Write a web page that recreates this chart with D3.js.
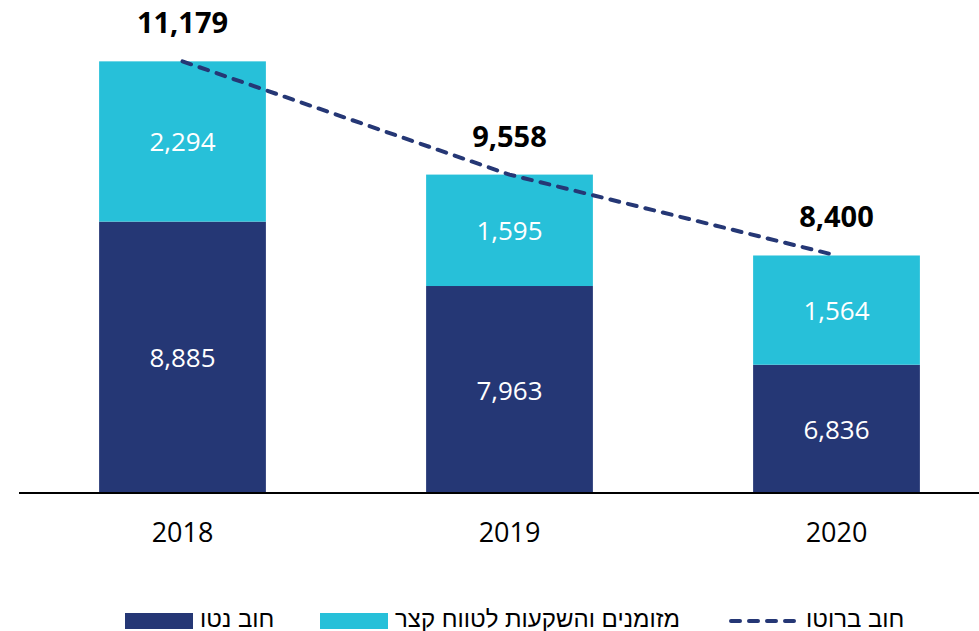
<!DOCTYPE html>
<html>
<head>
<meta charset="utf-8">
<script src="https://cdn.jsdelivr.net/npm/d3@7"></script>
<style>
  body { margin: 0; background: #fff; }
  svg { display: block; }
</style>
</head>
<body>
<div id="chart"></div>
<script>
// נתונים
var years = ["2018", "2019", "2020"];
var netDebt = [8885, 7963, 6836];       // חוב נטו
var cashShort = [2294, 1595, 1564];     // מזומנים והשקעות לטווח קצר
var grossDebt = [11179, 9558, 8400];    // חוב ברוטו

var navy = "#253775";
var cyan = "#27C0D9";

var width = 979, height = 631;

var svg = d3.select("#chart").append("svg")
    .attr("width", width)
    .attr("height", height);

var x = d3.scaleBand()
    .domain(years)
    .range([19, 1000])
    .paddingInner(0.49)
    .paddingOuter(0.245);

// ציר y לא מתחיל באפס
var y = d3.scaleLinear()
    .domain([5000, 12000])
    .range([493, 4]);

var rows = years.map(function(d, i) {
  return { year: d, net: netDebt[i], cash: cashShort[i], gross: grossDebt[i] };
});

// עמודת חוב נטו
svg.selectAll(".net").data(rows).enter().append("rect")
    .attr("class", "net")
    .attr("x", function(d) { return x(d.year); })
    .attr("width", x.bandwidth())
    .attr("y", function(d) { return y(d.net); })
    .attr("height", function(d) { return y(y.domain()[0]) - y(d.net); })
    .attr("fill", navy);

// עמודת מזומנים
svg.selectAll(".cash").data(rows).enter().append("rect")
    .attr("class", "cash")
    .attr("x", function(d) { return x(d.year); })
    .attr("width", x.bandwidth())
    .attr("y", function(d) { return y(d.net + d.cash); })
    .attr("height", function(d) { return y(d.net) - y(d.net + d.cash); })
    .attr("fill", cyan);

var fmt = d3.format(",");

// תוויות בתוך העמודות
svg.selectAll(".netLabel").data(rows).enter().append("text")
    .attr("x", function(d) { return x(d.year) + x.bandwidth() / 2; })
    .attr("y", function(d) { return (y(d.net) + y(y.domain()[0])) / 2 + 10; })
    .attr("text-anchor", "middle")
    .attr("font-family", "'Open Sans', sans-serif")
    .attr("font-size", 26)
    .attr("fill", "#fff")
    .text(function(d) { return fmt(d.net); });

svg.selectAll(".cashLabel").data(rows).enter().append("text")
    .attr("x", function(d) { return x(d.year) + x.bandwidth() / 2; })
    .attr("y", function(d) { return (y(d.net) + y(d.net + d.cash)) / 2 + 10; })
    .attr("text-anchor", "middle")
    .attr("font-family", "'Open Sans', sans-serif")
    .attr("font-size", 26)
    .attr("fill", "#fff")
    .text(function(d) { return fmt(d.cash); });

// קו חוב ברוטו
var line = d3.line()
    .x(function(d) { return x(d.year) + x.bandwidth() / 2; })
    .y(function(d) { return y(d.gross); });

svg.append("path")
    .datum(rows)
    .attr("d", line)
    .attr("fill", "none")
    .attr("stroke", navy)
    .attr("stroke-width", 4)
    .attr("stroke-linecap", "round")
    .attr("stroke-dasharray", "9,9");

svg.selectAll(".grossLabel").data(rows).enter().append("text")
    .attr("x", function(d) { return x(d.year) + x.bandwidth() / 2; })
    .attr("y", function(d) { return y(d.gross) - 28; })
    .attr("text-anchor", "middle")
    .attr("font-family", "'Open Sans', sans-serif")
    .attr("font-weight", "bold")
    .attr("font-size", 29)
    .attr("fill", "#000")
    .text(function(d) { return fmt(d.gross); });

// ציר x
var xAxis = d3.axisBottom(x).tickSize(0).tickPadding(30);
var gx = svg.append("g")
    .attr("transform", "translate(0," + y(y.domain()[0]) + ")")
    .call(xAxis);
gx.select(".domain").attr("d", "M19,0H979").attr("stroke", "#000").attr("stroke-width", 2);
gx.selectAll("text")
    .attr("font-family", "'Open Sans', sans-serif")
    .attr("font-size", 27)
    .attr("fill", "#000");

// מקרא
var legend = svg.append("g").attr("font-family", "'Liberation Sans', sans-serif").attr("font-size", 24);

legend.append("rect").attr("x", 125).attr("y", 613).attr("width", 68).attr("height", 16).attr("fill", navy);
legend.append("text").attr("x", 200).attr("y", 627).text("חוב נטו");

legend.append("rect").attr("x", 320).attr("y", 613).attr("width", 68).attr("height", 16).attr("fill", cyan);
legend.append("text").attr("x", 395).attr("y", 627).text("מזומנים והשקעות לטווח קצר");

legend.append("line").attr("x1", 731).attr("x2", 798).attr("y1", 621).attr("y2", 621)
    .attr("stroke", navy).attr("stroke-width", 4)
    .attr("stroke-linecap", "round").attr("stroke-dasharray", "9,9");
legend.append("text").attr("x", 806).attr("y", 627).text("חוב ברוטו");
</script>
</body>
</html>
